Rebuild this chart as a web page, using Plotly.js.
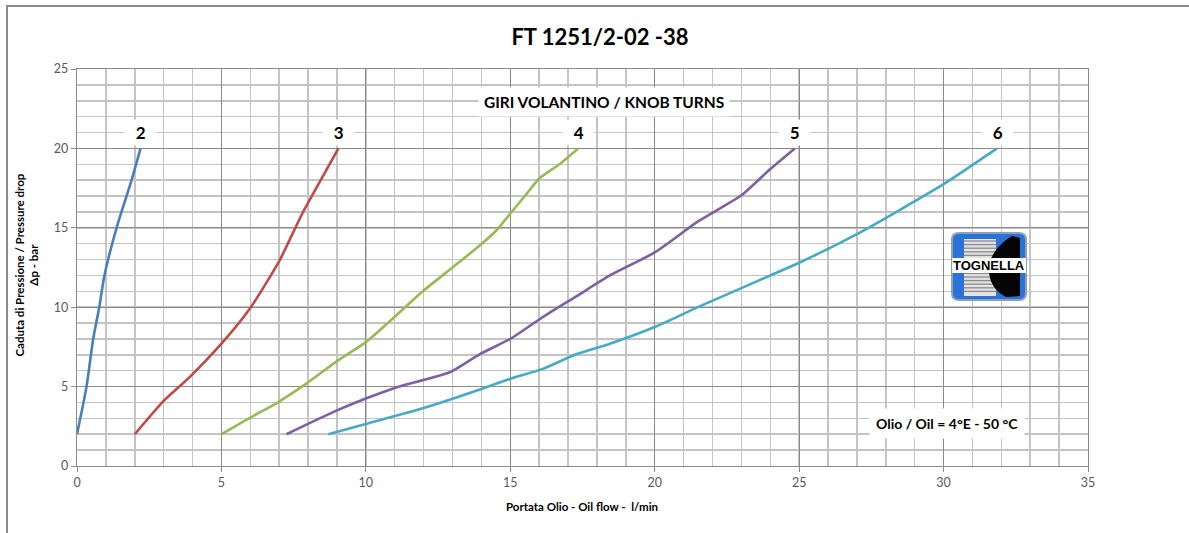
<!DOCTYPE html>
<html>
<head>
<meta charset="utf-8">
<script src="https://cdn.plot.ly/plotly-3.0.1.min.js"></script>
<style>html,body{margin:0;padding:0;background:#fff;}#chart{width:1189px;height:533px;}</style>
</head>
<body>
<div id="chart"></div>
<script>
// ---- data ----
const turnLabels = ["2", "3", "4", "5", "6"];
const flow2 = [0, 0.33, 0.56, 0.77, 0.95, 1.37, 1.89, 2.2];
const dp2   = [2, 5, 8, 10, 12, 15, 18, 20];
const flow3 = [2, 3, 3.9, 5, 6, 7, 7.8, 8.5, 9.05];
const dp3   = [2, 4.1, 5.6, 7.7, 9.95, 12.9, 15.9, 18.2, 20];
const flow4 = [5, 6, 6.9, 7.95, 9, 10, 11, 12, 13, 13.95, 14.5, 15, 15.55, 16, 16.7, 17.35];
const dp4   = [2, 3.05, 3.95, 5.2, 6.6, 7.8, 9.4, 11.05, 12.5, 13.9, 14.8, 15.9, 17.1, 18.1, 19, 20];
const flow5 = [7.25, 9, 10, 11.05, 12.9, 13.95, 15, 16.1, 17.3, 18.45, 20, 21.5, 23, 24, 24.85];
const dp5   = [2, 3.5, 4.25, 4.95, 5.9, 7.05, 8, 9.35, 10.7, 12, 13.45, 15.4, 17.05, 18.7, 20];
const flow6 = [8.7, 10, 12, 14, 15, 16.1, 17.3, 18.45, 20, 21.55, 23, 24, 25, 27, 30, 31.85];
const dp6   = [2, 2.65, 3.65, 4.85, 5.5, 6.1, 7.05, 7.7, 8.75, 10.05, 11.2, 12, 12.8, 14.6, 17.75, 20];
const labelY = 21;
const xTicks = [0, 5, 10, 15, 20, 25, 30, 35];
const yTicks = [0, 5, 10, 15, 20, 25];

const titleText = "FT 1251/2-02 -38";
const xTitle = "Portata Olio - Oil flow -  l/min";
const yTitle1 = "Caduta di Pressione / Pressure drop";
const yTitle2 = "Δp - bar";
const knobText = "GIRI VOLANTINO / KNOB TURNS";
const oilText = "Olio / Oil = 4°E - 50 °C";
const logoText = "TOGNELLA";

// ---- styling / layout ----
const colors = ["#4A7EBB", "#BE4B48", "#98B954", "#7D60A0", "#46AAC5"];
const series = [[flow2, dp2], [flow3, dp3], [flow4, dp4], [flow5, dp5], [flow6, dp6]];
const FONT = "Lato, 'Open Sans', 'DejaVu Sans', sans-serif";

const W = 1189, H = 533;
const L = 77, R = 1088, T = 69, B = 466;
const px = v => (v - L) / (R - L);
const py = v => (B - v) / (B - T);

const traces = series.map((s, i) => ({
  type: "scatter", mode: "lines",
  x: s[0], y: s[1],
  line: {color: colors[i], width: 2.6, shape: "spline", smoothing: 0.6},
  hoverinfo: "x+y", showlegend: false
}));

const annotations = [];
series.forEach((s, i) => {
  annotations.push({
    xref: "x", yref: "y", x: s[0][s[0].length - 1], y: labelY,
    text: "&nbsp;&nbsp;<b>" + turnLabels[i] + "</b>&nbsp;&nbsp;", showarrow: false,
    font: {family: FONT, size: 17, color: "#000"},
    bgcolor: "#ffffff", borderpad: 2, xanchor: "center", yanchor: "middle"
  });
});
annotations.push({
  xref: "paper", yref: "paper", x: px(604), y: py(101.5),
  text: "<b>" + knobText + "</b>", showarrow: false,
  font: {family: FONT, size: 15.5, color: "#000"},
  bgcolor: "#ffffff", borderpad: 5, xanchor: "center", yanchor: "middle"
});
annotations.push({
  xref: "paper", yref: "paper", x: px(947), y: py(423.5),
  text: "<b>" + oilText + "</b>", showarrow: false,
  font: {family: FONT, size: 14, color: "#000"},
  bgcolor: "#ffffff", borderpad: 6, xanchor: "center", yanchor: "middle"
});
annotations.push({
  xref: "paper", yref: "paper", x: px(582), y: py(506),
  text: "<b>" + xTitle + "</b>", showarrow: false,
  font: {family: FONT, size: 11.5, color: "#000"},
  xanchor: "center", yanchor: "middle"
});
annotations.push({
  xref: "paper", yref: "paper", x: px(26.5), y: py(265),
  text: "<b>" + yTitle1 + "</b><br><b>" + yTitle2 + "</b>", showarrow: false,
  textangle: -90,
  font: {family: FONT, size: 11.5, color: "#000"},
  xanchor: "center", yanchor: "middle"
});
annotations.push({
  xref: "paper", yref: "paper", x: px(989), y: py(265.5),
  text: "<b>" + logoText + "</b>", showarrow: false,
  font: {family: "'Liberation Sans Narrow', 'Liberation Sans', Arial, sans-serif", size: 13, color: "#000"},
  xanchor: "center", yanchor: "middle"
});

// logo + frame shapes (paper coordinates)
const shapes = [];
shapes.push({type: "rect", xref: "paper", yref: "paper",
  x0: px(7), x1: px(1200), y0: py(6), y1: py(545),
  line: {color: "#8c8c8c", width: 2}, fillcolor: "rgba(0,0,0,0)", layer: "below"});
function rr(x0, y0, x1, y1, r) {
  const f = (a, b) => px(a) + "," + py(b);
  return "M" + f(x0 + r, y0) + " L" + f(x1 - r, y0) + " Q" + f(x1, y0) + " " + f(x1, y0 + r) +
    " L" + f(x1, y1 - r) + " Q" + f(x1, y1) + " " + f(x1 - r, y1) +
    " L" + f(x0 + r, y1) + " Q" + f(x0, y1) + " " + f(x0, y1 - r) +
    " L" + f(x0, y0 + r) + " Q" + f(x0, y0) + " " + f(x0 + r, y0) + " Z";
}
shapes.push({type: "path", xref: "paper", yref: "paper", path: rr(952, 233, 1026, 300, 7),
  fillcolor: "#2b72d8", line: {color: "#8da0b8", width: 2}});
shapes.push({type: "rect", xref: "paper", yref: "paper",
  x0: px(964), x1: px(996), y0: py(239), y1: py(296),
  fillcolor: "#e4e4e4", line: {width: 0}});
for (let yy = 241; yy <= 295; yy += 3.6) {
  shapes.push({type: "line", xref: "paper", yref: "paper",
    x0: px(964), x1: px(996), y0: py(yy), y1: py(yy),
    line: {color: "#8e8e8e", width: 1.4}});
}
{
  const f = (a, b) => px(a) + "," + py(b);
  shapes.push({type: "path", xref: "paper", yref: "paper",
    path: "M" + f(1012, 236) + " L" + f(1020, 238) + " L" + f(1020, 296) + " L" + f(1006, 297) +
      " C" + f(994, 291) + " " + f(988, 280) + " " + f(989, 267) +
      " C" + f(990, 255) + " " + f(999, 244) + " " + f(1012, 236) + " Z",
    fillcolor: "#050505", line: {width: 0}});
}
shapes.push({type: "rect", xref: "paper", yref: "paper",
  x0: px(952), x1: px(1026), y0: py(258), y1: py(273),
  fillcolor: "#ffffff", line: {width: 0}});

const axisCommon = {
  showgrid: true, gridcolor: "#8a8a8a", gridwidth: 1.2,
  zeroline: false, showline: true, linecolor: "#8a8a8a", linewidth: 1.2, mirror: true,
  ticks: "outside", ticklen: 5, tickcolor: "#8a8a8a", tickwidth: 1,
  tickfont: {family: FONT, size: 12.5, color: "#595959"},
  fixedrange: true
};

const layout = {
  width: W, height: H,
  margin: {l: L, r: W - R, t: T, b: H - B, pad: 0},
  paper_bgcolor: "#ffffff", plot_bgcolor: "#ffffff",
  title: {text: "<b>" + titleText + "</b>", font: {family: FONT, size: 22, color: "#000"},
    xref: "container", yref: "container", x: 600 / W, xanchor: "center", y: 1 - 37 / H, yanchor: "middle"},
  xaxis: Object.assign({}, axisCommon, {
    range: [0, 35], tickmode: "array", tickvals: xTicks, ticktext: xTicks.map(String),
    minor: {dtick: 1, showgrid: true, gridcolor: "#c4c4c4", gridwidth: 1.5, ticks: ""}
  }),
  yaxis: Object.assign({}, axisCommon, {
    range: [0, 25], tickmode: "array", tickvals: yTicks, ticktext: yTicks.map(String),
    minor: {dtick: 1, showgrid: true, gridcolor: "#c4c4c4", gridwidth: 1.5, ticks: ""}
  }),
  annotations: annotations,
  shapes: shapes,
  showlegend: false
};

Plotly.newPlot("chart", traces, layout, {displayModeBar: false, staticPlot: true});
</script>
</body>
</html>
